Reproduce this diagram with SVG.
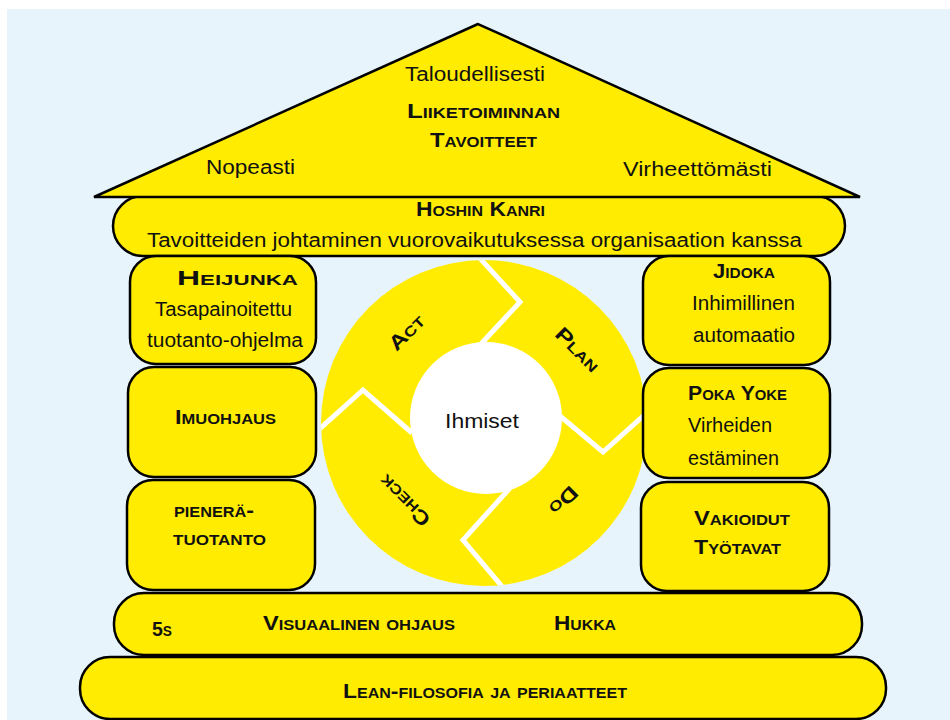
<svg xmlns="http://www.w3.org/2000/svg" width="950" height="720" viewBox="0 0 950 720">
<defs>
<style>
.y{fill:#FFEC00;stroke:#000;stroke-width:2.5}
.t{font-family:"Liberation Sans",Arial,sans-serif;fill:#111;font-size:20px}
.sc{font-family:"Liberation Sans",Arial,sans-serif;fill:#111;font-size:20px;font-weight:bold;font-variant:small-caps}
.m{text-anchor:middle}
.wl{fill:none;stroke:#fff;stroke-width:5}
</style>
<clipPath id="cc"><circle cx="484" cy="423" r="163"/></clipPath>
</defs>
<rect x="0" y="0" width="950" height="720" fill="#fff"/>
<rect x="7" y="9" width="943" height="711" fill="#E8F4FC"/>

<g id="pdca">
<circle cx="484" cy="423" r="163" fill="#FFEC00"/>
<g clip-path="url(#cc)">
<polyline class="wl" points="476,254 520,302 480,345"/>
<polyline class="wl" points="560,416 603,452 650,410"/>
<polyline class="wl" points="510,488 463,540 505,590"/>
<polyline class="wl" points="412,433 363,390 314,434"/>
</g>
<circle cx="486" cy="418" r="76" fill="#fff"/>
<text class="t" x="445" y="428" textLength="74" lengthAdjust="spacingAndGlyphs">Ihmiset</text>
<text class="sc m" transform="translate(407,333) rotate(-45)" dy="6" textLength="42" lengthAdjust="spacingAndGlyphs">Act</text>
<text class="sc m" transform="translate(577,350) rotate(45)" dy="6" textLength="54" lengthAdjust="spacingAndGlyphs">Plan</text>
<text class="sc m" transform="translate(563,500) rotate(135)" dy="6" textLength="32" lengthAdjust="spacingAndGlyphs">Do</text>
<text class="sc m" transform="translate(405,500) rotate(225)" dy="6" textLength="64" lengthAdjust="spacingAndGlyphs">Check</text>
</g>

<g id="hoshin">
<rect class="y" x="113" y="196" width="732" height="60" rx="30" ry="30"/>
<text class="sc" x="416" y="216" textLength="129" lengthAdjust="spacingAndGlyphs">Hoshin Kanri</text>
<text class="t" x="147" y="247" textLength="655" lengthAdjust="spacingAndGlyphs">Tavoitteiden johtaminen vuorovaikutuksessa organisaation kanssa</text>
</g>

<g id="roof">
<polygon class="y" points="478,24 94,197 860,197"/>
<text class="t" x="405" y="81" textLength="140" lengthAdjust="spacingAndGlyphs">Taloudellisesti</text>
<text class="sc" x="407" y="118" textLength="153" lengthAdjust="spacingAndGlyphs">Liiketoiminnan</text>
<text class="sc" x="430" y="147" textLength="107" lengthAdjust="spacingAndGlyphs">Tavoitteet</text>
<text class="t" x="206" y="174" textLength="89" lengthAdjust="spacingAndGlyphs">Nopeasti</text>
<text class="t" x="623" y="176" textLength="149" lengthAdjust="spacingAndGlyphs">Virheettömästi</text>
</g>

<g id="heijunka">
<rect class="y" x="130" y="256" width="186" height="108" rx="26"/>
<text class="sc" x="177" y="285" textLength="121" lengthAdjust="spacingAndGlyphs">Heijunka</text>
<text class="t" x="155" y="316" textLength="137" lengthAdjust="spacingAndGlyphs">Tasapainoitettu</text>
<text class="t" x="147" y="347" textLength="156" lengthAdjust="spacingAndGlyphs">tuotanto-ohjelma</text>
</g>
<g id="imuohjaus">
<rect class="y" x="128" y="367" width="188" height="110" rx="26"/>
<text class="sc" x="175" y="424" textLength="101" lengthAdjust="spacingAndGlyphs">Imuohjaus</text>
</g>
<g id="pienera">
<rect class="y" x="127" y="480" width="188" height="110" rx="26"/>
<text class="sc" x="174" y="517" textLength="80" lengthAdjust="spacingAndGlyphs">pienerä-</text>
<text class="sc" x="173" y="545" textLength="93" lengthAdjust="spacingAndGlyphs">tuotanto</text>
</g>

<g id="jidoka">
<rect class="y" x="643" y="256" width="187" height="109" rx="26"/>
<text class="sc" x="713" y="278" textLength="62" lengthAdjust="spacingAndGlyphs">Jidoka</text>
<text class="t" x="692" y="310" textLength="103" lengthAdjust="spacingAndGlyphs">Inhimillinen</text>
<text class="t" x="693" y="342" textLength="102" lengthAdjust="spacingAndGlyphs">automaatio</text>
</g>
<g id="pokayoke">
<rect class="y" x="643" y="368" width="187" height="110" rx="26"/>
<text class="sc" x="688" y="400" textLength="99" lengthAdjust="spacingAndGlyphs">Poka Yoke</text>
<text class="t" x="688" y="432" textLength="84" lengthAdjust="spacingAndGlyphs">Virheiden</text>
<text class="t" x="688" y="465" textLength="91" lengthAdjust="spacingAndGlyphs">estäminen</text>
</g>
<g id="vakioidut">
<rect class="y" x="641" y="482" width="188" height="109" rx="26"/>
<text class="sc" x="694" y="525" textLength="96" lengthAdjust="spacingAndGlyphs">Vakioidut</text>
<text class="sc" x="694" y="554" textLength="87" lengthAdjust="spacingAndGlyphs">Työtavat</text>
</g>

<g id="tools">
<rect class="y" x="114" y="593" width="748" height="62" rx="30" ry="30"/>
<text class="sc" x="152" y="636" textLength="20" lengthAdjust="spacingAndGlyphs">5s</text>
<text class="sc" x="263" y="630" textLength="192" lengthAdjust="spacingAndGlyphs">Visuaalinen ohjaus</text>
<text class="sc" x="554" y="630" textLength="62" lengthAdjust="spacingAndGlyphs">Hukka</text>
</g>
<g id="lean">
<rect class="y" x="80" y="657" width="806" height="62" rx="30" ry="30"/>
<text class="sc" x="343" y="698" textLength="284" lengthAdjust="spacingAndGlyphs">Lean-filosofia ja periaatteet</text>
</g>
<g id="connectors"/>
</svg>
